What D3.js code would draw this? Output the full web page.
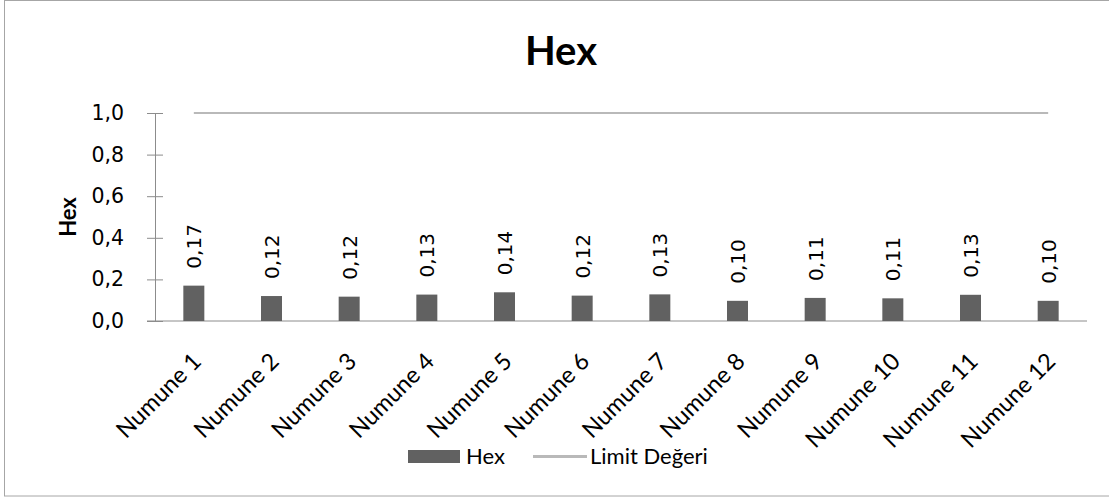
<!DOCTYPE html>
<html>
<head>
<meta charset="utf-8">
<script src="https://cdn.jsdelivr.net/npm/d3@7"></script>
<style>
  html, body { margin: 0; padding: 0; background: #fff; }
  svg { display: block; }
</style>
</head>
<body>
<svg id="chart" width="1109" height="499"></svg>
<script>
const categories = ["Numune 1","Numune 2","Numune 3","Numune 4","Numune 5","Numune 6","Numune 7","Numune 8","Numune 9","Numune 10","Numune 11","Numune 12"];
const hexValues = [0.17, 0.12, 0.117, 0.127, 0.138, 0.122, 0.128, 0.097, 0.111, 0.109, 0.126, 0.097];
const limitValues = [1.0, 1.0, 1.0, 1.0, 1.0, 1.0, 1.0, 1.0, 1.0, 1.0, 1.0, 1.0];
const yTicks = [0, 0.2, 0.4, 0.6, 0.8, 1.0];
const titleText = "Hex";
const yTitle = "Hex";
const legendLabels = ["Hex", "Limit Değeri"];

const svg = d3.select("#chart");
const W = 1109, H = 499;
const margin = {left: 155, right: 22, top: 113, bottom: 178};
const x0 = margin.left, x1 = W - margin.right;
const yTop = margin.top, yBot = H - margin.bottom;

const numFont = "'DejaVu Sans', Verdana, sans-serif";
const txtFont = "Lato, 'Open Sans', sans-serif";
const axisColor = "#8c8c8c";
const barColor = "#616161";
const limitColor = "#b9b9b9";
const fmt = v => d3.format(".2f")(v).replace(".", ",");
const fmtTick = v => d3.format(".1f")(v).replace(".", ",");

// border
svg.append("rect").attr("x", 4.5).attr("y", 0.5).attr("width", W - 5 + 10).attr("height", 495.5)
  .attr("fill", "none").attr("stroke", "#a6a6a6").attr("stroke-width", 1);

const x = d3.scaleBand().domain(categories).range([x0, x1]).paddingInner(0).paddingOuter(0);
const y = d3.scaleLinear().domain([0, 1]).range([yBot, yTop]);
const barW = 21;

// title
svg.append("text").attr("x", 561).attr("y", 65).attr("text-anchor", "middle")
  .attr("font-family", txtFont).attr("font-weight", "bold").attr("font-size", 40)
  .attr("fill", "#000").text(titleText);

// y axis
const yAxis = d3.axisLeft(y).tickValues(yTicks).tickFormat(fmtTick).tickSize(8).tickSizeOuter(0);
const gy = svg.append("g").attr("transform", `translate(${x0},0)`).call(yAxis);
gy.select(".domain").attr("stroke", axisColor);
gy.selectAll(".tick line").attr("stroke", axisColor).attr("x2", -8).attr("x1", 8);
gy.selectAll(".tick text").attr("font-family", numFont).attr("font-size", 20.5)
  .attr("fill", "#000").attr("x", -31);

// x axis baseline
const xAxis = d3.axisBottom(x).tickSize(0).tickFormat("");
const gx = svg.append("g").attr("transform", `translate(0,${yBot})`).call(xAxis);
gx.select(".domain").attr("stroke", axisColor).attr("d", `M${x0 - 8},0H${x1}`);

// category labels
svg.append("g").selectAll("text").data(categories).join("text")
  .attr("transform", d => `translate(${x(d) + x.bandwidth()/2 + 3},${yBot + 36}) rotate(-45)`)
  .attr("text-anchor", "end").attr("dy", "0.35em")
  .attr("font-family", txtFont).attr("font-size", 23.5).attr("fill", "#000")
  .text(d => d);

// bars
svg.append("g").selectAll("rect").data(hexValues).join("rect")
  .attr("x", (d, i) => x(categories[i]) + x.bandwidth()/2 - barW/2)
  .attr("y", d => y(d)).attr("width", barW).attr("height", d => yBot - y(d))
  .attr("fill", barColor);

// limit line
const line = d3.line().x((d, i) => x(categories[i]) + x.bandwidth()/2).y(d => y(d));
svg.append("path").datum(limitValues).attr("d", line)
  .attr("fill", "none").attr("stroke", limitColor).attr("stroke-width", 2);

// data labels
svg.append("g").selectAll("text").data(hexValues).join("text")
  .attr("transform", (d, i) => `translate(${x(categories[i]) + x.bandwidth()/2 + 7.5},${y(d) - 17}) rotate(-90)`)
  .attr("text-anchor", "start")
  .attr("font-family", numFont).attr("font-size", 20).attr("fill", "#000")
  .text(d => fmt(d));

// y title
svg.append("text").attr("transform", "translate(76,217) rotate(-90)")
  .attr("text-anchor", "middle").attr("font-family", txtFont).attr("font-weight", "bold")
  .attr("font-size", 22).attr("fill", "#000").text(yTitle);

// legend
const lg = svg.append("g");
lg.append("rect").attr("x", 408).attr("y", 450).attr("width", 52).attr("height", 13).attr("fill", barColor);
lg.append("text").attr("x", 466).attr("y", 464).attr("font-family", txtFont).attr("font-size", 22)
  .attr("fill", "#000").text(legendLabels[0]);
lg.append("line").attr("x1", 533).attr("x2", 587).attr("y1", 456.5).attr("y2", 456.5)
  .attr("stroke", limitColor).attr("stroke-width", 3);
lg.append("text").attr("x", 590).attr("y", 464).attr("font-family", txtFont).attr("font-size", 22)
  .attr("fill", "#000").text(legendLabels[1]);
</script>
</body>
</html>
